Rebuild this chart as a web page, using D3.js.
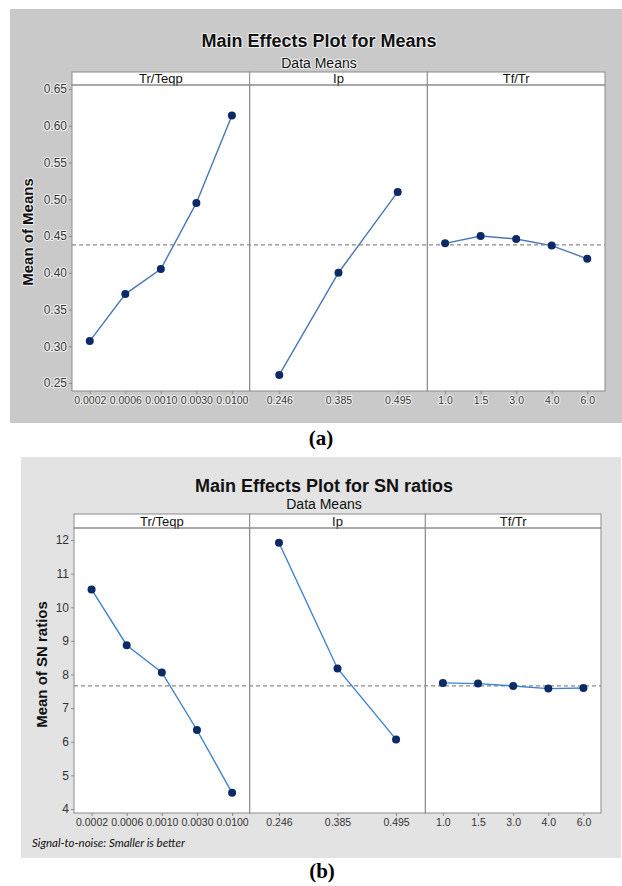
<!DOCTYPE html>
<html><head><meta charset="utf-8">
<script src="https://cdn.jsdelivr.net/npm/d3@7"></script>
<style>
body{margin:0;background:#fff;}
svg{display:block;}
.halo{paint-order:stroke;stroke:#fff;stroke-width:2px;stroke-opacity:0.75;stroke-linejoin:round;}
</style></head>
<body>
<svg id="c" width="622" height="886"></svg>
<script>
// ---------- data ----------
const factors = ["Tr/Teqp", "Ip", "Tf/Tr"];
const trTeqpLevels = ["0.0002", "0.0006", "0.0010", "0.0030", "0.0100"];
const ipLevels = ["0.246", "0.385", "0.495"];
const tfTrLevels = ["1.0", "1.5", "3.0", "4.0", "6.0"];

const meansTrTeqp = [0.307, 0.371, 0.405, 0.495, 0.614];
const meansIp = [0.261, 0.400, 0.510];
const meansTfTr = [0.440, 0.450, 0.446, 0.437, 0.419];
const meansOverall = 0.438;
const meansYTicks = [0.25, 0.30, 0.35, 0.40, 0.45, 0.50, 0.55, 0.60, 0.65];

const snTrTeqp = [10.53, 8.87, 8.06, 6.35, 4.48];
const snIp = [11.92, 8.18, 6.07];
const snTfTr = [7.75, 7.73, 7.66, 7.58, 7.60];
const snOverall = 7.66;
const snYTicks = [4, 5, 6, 7, 8, 9, 10, 11, 12];

const levels = [trTeqpLevels, ipLevels, tfTrLevels];

// ---------- drawing ----------
const svg = d3.select("#c");
const SANS = "'Liberation Sans', Arial, sans-serif";

function drawChart(o) {
  const g = svg.append("g");
  g.append("rect").attr("x", o.bg[0]).attr("y", o.bg[1]).attr("width", o.bg[2]).attr("height", o.bg[3]).attr("fill", o.bgColor);

  const halo = o.halo ? "halo" : null;
  const cx = o.bg[0] + o.bg[2] / 2;
  g.append("text").attr("class", halo).attr("x", cx + o.titleDx).attr("y", o.titleY)
    .attr("text-anchor", "middle").attr("font-family", SANS)
    .attr("font-size", 18).attr("font-weight", "bold").attr("fill", "#111").text(o.title);
  g.append("text").attr("class", halo).attr("x", cx + o.titleDx).attr("y", o.subY)
    .attr("text-anchor", "middle").attr("font-family", SANS)
    .attr("font-size", 14).attr("fill", "#111").text("Data Means");

  const fx = d3.scaleBand().domain(factors).range([o.left, o.right]).paddingInner(0).paddingOuter(0);
  const y = d3.scaleLinear().domain(o.yDomain).range(o.yRange);

  // plot area
  g.append("rect").attr("x", o.left).attr("y", o.stripBottom).attr("width", o.right - o.left)
    .attr("height", o.bottom - o.stripBottom).attr("fill", "#fff");

  // reference line
  g.append("line").attr("x1", o.left).attr("x2", o.right).attr("y1", y(o.overall)).attr("y2", y(o.overall))
    .attr("stroke", "#8a8a8a").attr("stroke-width", 1.2).attr("stroke-dasharray", "4,3");

  factors.forEach((f, i) => {
    const x0 = fx(f), x1 = x0 + fx.bandwidth();
    // strip
    g.append("rect").attr("x", x0).attr("y", o.stripTop).attr("width", fx.bandwidth())
      .attr("height", o.stripBottom - o.stripTop).attr("fill", "#fff").attr("stroke", "#8c8c8c").attr("stroke-width", 1);
    g.append("text").attr("x", (x0 + x1) / 2).attr("y", o.stripBottom - 2).attr("text-anchor", "middle")
      .attr("font-family", SANS).attr("font-size", 13).attr("fill", "#111").text(f);
    // panel frame
    g.append("rect").attr("x", x0).attr("y", o.stripBottom).attr("width", fx.bandwidth())
      .attr("height", o.bottom - o.stripBottom).attr("fill", "none").attr("stroke", "#8c8c8c").attr("stroke-width", 1);

    const xp = d3.scalePoint().domain(levels[i]).range([x0, x1]).padding(0.5);
    const vals = o.series[i];
    const pts = levels[i].map((l, k) => [xp(l), y(vals[k])]);
    g.append("path").attr("d", d3.line()(pts)).attr("fill", "none").attr("stroke", o.lineColor).attr("stroke-width", 1.4);
    g.selectAll(null).data(pts).enter().append("circle").attr("cx", d => d[0]).attr("cy", d => d[1])
      .attr("r", 4).attr("fill", "#0b2a66");

    const ax = g.append("g").attr("transform", `translate(0,${o.bottom})`)
      .call(d3.axisBottom(xp).tickSize(3).tickPadding(3));
    ax.select(".domain").remove();
    ax.selectAll("line").attr("stroke", "#8c8c8c");
    ax.selectAll("text").attr("class", halo).attr("font-family", SANS)
      .attr("font-size", 10.5).attr("fill", "#333");
  });

  const ay = g.append("g").attr("transform", `translate(${o.left},0)`)
    .call(d3.axisLeft(y).tickValues(o.yTicks).tickSize(3).tickPadding(2).tickFormat(o.yFormat));
  ay.select(".domain").remove();
  ay.selectAll("line").attr("stroke", "#8c8c8c");
  ay.selectAll("text").attr("class", halo).attr("font-family", SANS)
    .attr("font-size", 12).attr("fill", "#333");

  g.append("text").attr("class", halo).attr("transform", `translate(${o.yLabelX},${(o.stripBottom + o.bottom) / 2 - 6}) rotate(-90)`)
    .attr("text-anchor", "middle").attr("font-family", SANS)
    .attr("font-size", 15).attr("font-weight", "bold").attr("fill", "#111").text(o.yLabel);

  if (o.note) {
    g.append("text").attr("x", o.left - 42).attr("y", o.noteY).attr("font-family", "Lato, 'Open Sans', sans-serif")
      .attr("font-style", "italic").attr("font-size", 11.5).attr("fill", "#111").text(o.note);
  }

  svg.append("text").attr("x", o.capX).attr("y", o.capY).attr("text-anchor", "middle")
    .attr("font-family", "'Liberation Serif', 'Times New Roman', serif").attr("font-weight", "bold")
    .attr("font-size", 21).attr("fill", "#000").text(o.caption);
}

drawChart({
  bg: [10, 9, 612, 414], bgColor: "#c9c9c9", halo: true,
  title: "Main Effects Plot for Means", titleY: 47, subY: 68, titleDx: 3,
  left: 72, right: 605, stripTop: 72, stripBottom: 85, bottom: 391,
  yDomain: [0.25, 0.65], yRange: [383, 89], yTicks: meansYTicks, yFormat: d3.format(".2f"),
  overall: meansOverall, series: [meansTrTeqp, meansIp, meansTfTr],
  lineColor: "#4a77b4", yLabel: "Mean of Means", yLabelX: 33,
  caption: "(a)", capX: 321, capY: 445
});

drawChart({
  bg: [21, 457, 600, 401], bgColor: "#e3e3e3", halo: false,
  title: "Main Effects Plot for SN ratios", titleY: 492, subY: 509, titleDx: 3,
  left: 74, right: 601, stripTop: 514, stripBottom: 528, bottom: 813,
  yDomain: [4, 12], yRange: [809, 540], yTicks: snYTicks, yFormat: d3.format("d"),
  overall: snOverall, series: [snTrTeqp, snIp, snTfTr],
  lineColor: "#3f82cf", yLabel: "Mean of SN ratios", yLabelX: 47,
  note: "Signal-to-noise: Smaller is better", noteY: 847,
  caption: "(b)", capX: 322, capY: 878
});
</script>
</body></html>
